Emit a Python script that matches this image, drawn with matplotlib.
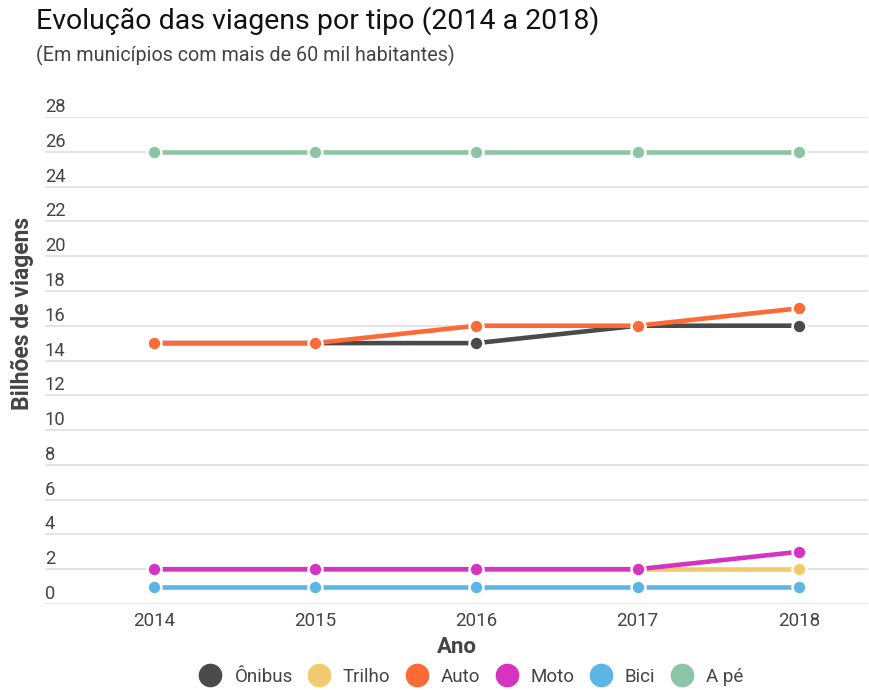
import matplotlib
matplotlib.use("Agg")
import matplotlib.pyplot as plt
from matplotlib.lines import Line2D
from matplotlib.transforms import blended_transform_factory, offset_copy

plt.rcParams["font.family"] = ["Roboto", "DejaVu Sans"]

years = [2014, 2015, 2016, 2017, 2018]
series_names = ["Ônibus", "Trilho", "Auto", "Moto", "Bici", "A pé"]
onibus = [15, 15, 15, 16, 16]
trilho = [2, 2, 2, 2, 2]
auto = [15, 15, 16, 16, 17]
moto = [2, 2, 2, 2, 3]
bici = [1, 1, 1, 1, 1]
a_pe = [26, 26, 26, 26, 26]
y_ticks = list(range(0, 29, 2))

colors = ["#4a4a4a", "#f0ca6c", "#fc6b35", "#d534c1", "#5cb6e4", "#8cc5a5"]
values = [onibus, trilho, auto, moto, bici, a_pe]

W, H = 869, 690
fig = plt.figure(figsize=(W / 100, H / 100), dpi=100)
left, right, top, bottom = 45, 868, 117, 604
ax = fig.add_axes([left / W, 1 - bottom / H, (right - left) / W, (bottom - top) / H])

for name, vals, col in zip(series_names, values, colors):
    ax.plot(years, vals, color=col, lw=3.3, marker="o", markersize=10,
            markerfacecolor=col, markeredgecolor="white", markeredgewidth=1.8,
            solid_capstyle="butt", zorder=3, clip_on=False)

ax.set_xlim(2013.324, 2018.428)
ax.set_ylim(0, 28)
ax.set_yticks(y_ticks)
ax.set_yticklabels([])
ax.tick_params(axis="y", length=0)
ax.grid(axis="y", color="#dcdcdc", lw=1.1, zorder=0)
for s in ax.spines.values():
    s.set_visible(False)

# y labels sit just above their grid lines
trans = blended_transform_factory(ax.transAxes, ax.transData)
trans = offset_copy(trans, fig=fig, x=0, y=1, units="dots")
for t in y_ticks:
    ax.text(0.0, t, str(t), transform=trans, ha="left", va="bottom",
            fontsize=13.2, color="#444444")

ax.set_xticks(years)
ax.set_xticklabels([str(y) for y in years], fontsize=13.5, color="#444444")
ax.tick_params(axis="x", length=0, pad=6)
ax.set_xlabel("Ano", fontsize=16, fontweight="bold", color="#444444", labelpad=4)

fig.text(22 / W, 1 - 313 / H, "Bilhões de viagens", rotation=90, ha="center",
         va="center", fontsize=16.5, fontweight="bold", color="#444444")

fig.text(36 / W, 1 - 21 / H, "Evolução das viagens por tipo (2014 a 2018)",
         fontsize=20.5, color="#111111", va="center", ha="left")
fig.text(36 / W, 1 - 55 / H, "(Em municípios com mais de 60 mil habitantes)",
         fontsize=14.2, color="#444444", va="center", ha="left")

handles = [Line2D([], [], lw=0, marker="o", markersize=16, color=c) for c in colors]
leg = fig.legend(handles, series_names, loc="center", ncol=6,
                 bbox_to_anchor=(472 / W, 1 - 677 / H), frameon=False,
                 fontsize=13.5, handlelength=1.0, handletextpad=0.78,
                 columnspacing=0.9)
for txt in leg.get_texts():
    txt.set_color("#444444")

fig.savefig("out.png", dpi=100)
